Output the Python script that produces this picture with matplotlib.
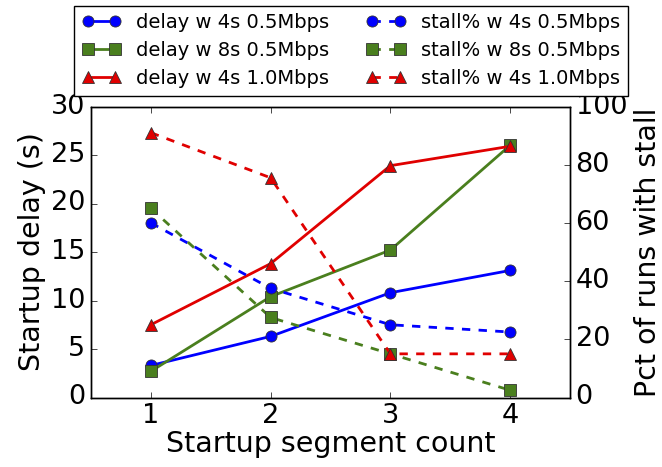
import matplotlib
matplotlib.use("Agg")
import matplotlib.pyplot as plt

plt.style.use("classic")

segments = [1, 2, 3, 4]
delay_4s_05 = [3.3, 6.3, 10.8, 13.1]
delay_8s_05 = [2.7, 10.4, 15.2, 26.0]
delay_4s_10 = [7.5, 13.8, 23.9, 25.9]
stall_4s_05 = [60, 37.5, 25, 22.5]
stall_8s_05 = [65, 27.5, 15, 2.5]
stall_4s_10 = [91, 75.5, 15, 15]

labels_delay = ["delay w 4s 0.5Mbps", "delay w 8s 0.5Mbps", "delay w 4s 1.0Mbps"]
labels_stall = ["stall% w 4s 0.5Mbps", "stall% w 8s 0.5Mbps", "stall% w 4s 1.0Mbps"]
colors = ["#0000ff", "#4a7f1e", "#e00000"]
markers = ["o", "s", "^"]

fig = plt.figure(figsize=(6.62, 4.67), dpi=100)
fig.patch.set_facecolor("white")
ax = fig.add_axes([91/662, 1-397.5/467, (570-91)/662, (397.5-106.5)/467])
ax2 = ax.twinx()

handles = []
for vals, lab, c, m in zip([delay_4s_05, delay_8s_05, delay_4s_10], labels_delay, colors, markers):
    h, = ax.plot(segments, vals, color=c, marker=m, markersize=8, linewidth=2, label=lab,
                 markeredgecolor="#333333", markeredgewidth=0.6)
    handles.append(h)
for vals, lab, c, m in zip([stall_4s_05, stall_8s_05, stall_4s_10], labels_stall, colors, markers):
    h, = ax2.plot(segments, vals, color=c, marker=m, markersize=8, linewidth=2, linestyle="--", label=lab,
                  markeredgecolor="#333333", markeredgewidth=0.6)
    handles.append(h)

ax.set_xlim(0.5, 4.5)
ax.set_ylim(0, 30)
ax2.set_ylim(0, 100)
ax.set_xticks([1, 2, 3, 4])
ax.set_yticks(range(0, 31, 5))
ax2.set_yticks(range(0, 101, 20))
ax.tick_params(labelsize=19.5)
ax2.tick_params(labelsize=19.5)
ax.set_xlabel("Startup segment count", fontsize=20.5, labelpad=1)
ax.set_ylabel("Startup delay (s)", fontsize=20.5, labelpad=4)
ax2.set_ylabel("Pct of runs with stall", fontsize=20.5, labelpad=5)

fig.legend(handles, [h.get_label() for h in handles], loc="upper center",
           bbox_to_anchor=(351/662, 1-5.5/467), ncol=2, fontsize=14, numpoints=2,
           frameon=True, fancybox=False, columnspacing=1.9, handlelength=2.0,
           handletextpad=0.8, labelspacing=0.45, borderpad=0.4, borderaxespad=0)

fig.savefig("out.png", dpi=100, facecolor="white")
